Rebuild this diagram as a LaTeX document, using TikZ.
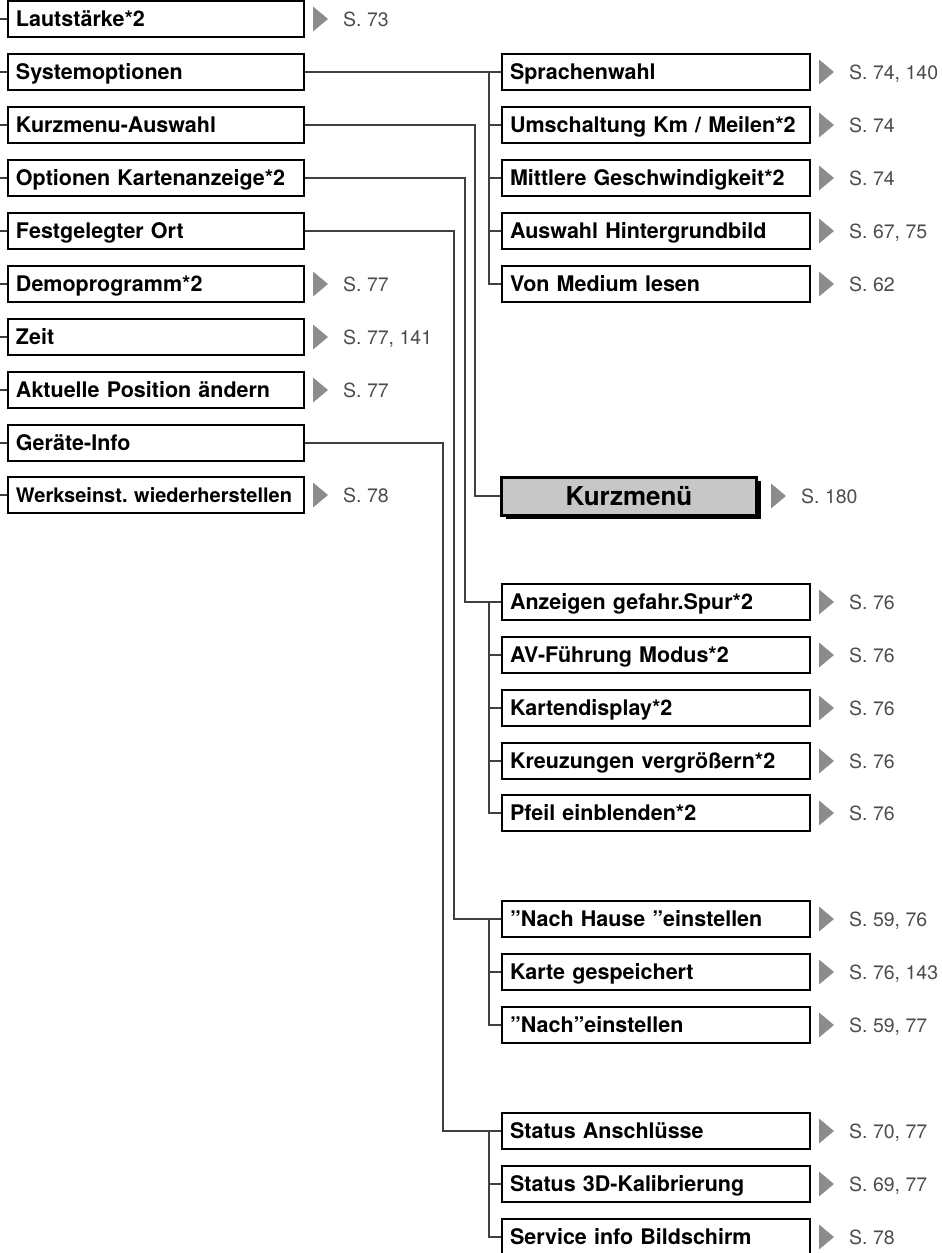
\documentclass[tikz,border=0pt]{standalone}
\usepackage{fontspec}
\setmainfont{TeX Gyre Heros}
\frenchspacing
\usetikzlibrary{shadows}
\tikzset{
  lbox/.style={draw, line width=2pt, minimum width=296pt, minimum height=36pt, inner xsep=8pt,
    text width=280pt, align=left, text height=15.4pt, text depth=0pt,
    font=\fontsize{21.5}{23}\selectfont\bfseries},
  rbox/.style={lbox, minimum width=308pt, text width=292pt},
  kbox/.style={draw, line width=3pt, fill=black!22, minimum width=255pt, minimum height=38pt,
    text height=18.7pt, text depth=0pt, font=\fontsize{26}{28}\selectfont\bfseries,
    drop shadow={shadow xshift=4pt, shadow yshift=-4pt, fill=black, opacity=1}},
  conn/.style={draw=black!75, line width=1.2pt},
  pg/.style={anchor=base west, inner sep=0pt, text=black!70, font=\fontsize{19.5}{21}\selectfont},
  pgtip/.style={fill=black!45}
}
\begin{document}
\begin{tikzpicture}[x=1pt, y=-1pt]
\useasboundingbox (0,0) rectangle (942,1253);
\coordinate (edge) at (0,0);
\coordinate (tA) at (489,0);
\coordinate (bK) at (475,0);
\coordinate (bO) at (465,0);
\coordinate (bF) at (454,0);
\coordinate (bG) at (443,0);

% main menu
\node[lbox] (laut) at (156,19) {Lautstärke*2};
\node[lbox] (sysopt) at (156,72) {Systemoptionen};
\node[lbox] (kmaus) at (156,125) {Kurzmenu-Auswahl};
\node[lbox] (optk) at (156,178) {Optionen Kartenanzeige*2};
\node[lbox] (fort) at (156,231) {Festgelegter Ort};
\node[lbox] (demo) at (156,284) {Demoprogramm*2};
\node[lbox] (zeit) at (156,337) {Zeit};
\node[lbox] (aktpos) at (156,390) {Aktuelle Position ändern};
\node[lbox] (geraet) at (156,443) {Geräte-Info};
\node[lbox, font=\fontsize{20}{23}\selectfont\bfseries] (werks) at (156,495) {Werkseinst.~wiederherstellen};

% sub menus
\node[rbox] (sprache) at (656,72) {Sprachenwahl};
\node[rbox] (umsch) at (656,125) {Umschaltung Km / Meilen*2};
\node[rbox] (mittel) at (656,178) {Mittlere Geschwindigkeit*2};
\node[rbox] (hinter) at (656,231) {Auswahl Hintergrundbild};
\node[rbox] (medium) at (656,284) {Von Medium lesen};

\node[kbox] (kmain) at (629,496) {Kurzmenü};

\node[rbox] (gefahr) at (656,602) {Anzeigen gefahr.Spur*2};
\node[rbox] (avf) at (656,655) {AV-Führung Modus*2};
\node[rbox] (kdisp) at (656,708) {Kartendisplay*2};
\node[rbox] (kreuz) at (656,761) {Kreuzungen vergrößern*2};
\node[rbox] (pfeil) at (656,813) {Pfeil einblenden*2};

\node[rbox] (nhause) at (656,919) {”Nach Hause ”einstellen};
\node[rbox] (karte) at (656,972) {Karte gespeichert};
\node[rbox] (nach) at (656,1025) {”Nach”einstellen};

\node[rbox] (status) at (656,1131) {Status Anschlüsse};
\node[rbox] (kalib) at (656,1184) {Status 3D-Kalibrierung};
\node[rbox] (service) at (656,1237) {Service info Bildschirm};

% connectors
\foreach \n in {laut,sysopt,kmaus,optk,fort,demo,zeit,aktpos,geraet,werks}
  \draw[conn] (\n.west -| edge) -- (\n.west);

\draw[conn] (sysopt.east) -- (sprache.west);
\draw[conn] (sprache.west -| tA) |- (medium.west);
\foreach \n in {umsch,mittel,hinter}
  \draw[conn] (\n.west -| tA) -- (\n.west);

\draw[conn] (kmaus.east) -- (kmaus.east -| bK) |- (kmain.west);

\draw[conn] (optk.east) -- (optk.east -| bO) |- (gefahr.west);
\draw[conn] (gefahr.west -| tA) |- (pfeil.west);
\foreach \n in {avf,kdisp,kreuz}
  \draw[conn] (\n.west -| tA) -- (\n.west);

\draw[conn] (fort.east) -- (fort.east -| bF) |- (nhause.west);
\draw[conn] (nhause.west -| tA) |- (nach.west);
\draw[conn] (karte.west -| tA) -- (karte.west);

\draw[conn] (geraet.east) -- (geraet.east -| bG) |- (status.west);
\draw[conn] (status.west -| tA) |- (service.west);
\draw[conn] (kalib.west -| tA) -- (kalib.west);

% page references
\foreach \b/\p in {laut/{S. 73}, demo/{S. 77}, zeit/{S. 77, 141}, aktpos/{S. 77}, werks/{S. 78},
    sprache/{S. 74, 140}, umsch/{S. 74}, mittel/{S. 74}, hinter/{S. 67, 75}, medium/{S. 62},
    gefahr/{S. 76}, avf/{S. 76}, kdisp/{S. 76}, kreuz/{S. 76}, pfeil/{S. 76},
    nhause/{S. 59, 76}, karte/{S. 76, 143}, nach/{S. 59, 77},
    status/{S. 70, 77}, kalib/{S. 69, 77}, service/{S. 78}} {
  \fill[pgtip] ([xshift=8pt]\b.east) ++(0pt,12.5pt) -- ++(15pt,-12.5pt) -- ++(-15pt,-12.5pt) -- cycle;
  \node[pg] (\b-pg) at ([xshift=38pt,yshift=-7pt]\b.east) {\p};
}
\fill[pgtip] ([xshift=13pt]kmain.east) ++(0pt,12.5pt) -- ++(15pt,-12.5pt) -- ++(-15pt,-12.5pt) -- cycle;
\node[pg] (kmain-pg) at ([xshift=43pt,yshift=-7pt]kmain.east) {S. 180};
\end{tikzpicture}
\end{document}
